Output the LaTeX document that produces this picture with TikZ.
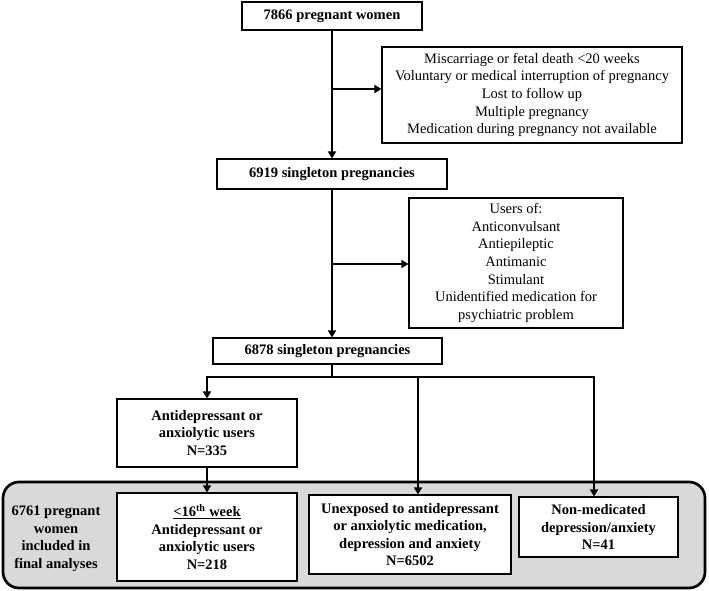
\documentclass[tikz,border=0pt]{standalone}
\usepackage{fontspec}
\setmainfont{Liberation Serif}
\usetikzlibrary{arrows.meta}
\definecolor{panelgrey}{RGB}{217,217,217}
\tikzset{
  boxbase/.style={draw, line width=1.1pt, fill=white, align=center, inner sep=0pt,
    font=\fontsize{14.5}{17.7}\selectfont},
  mainbox/.style={boxbase, font=\fontsize{14.5}{17.5}\selectfont\bfseries},
  exbox/.style={boxbase},
  arr/.style={line width=2.7pt, -{Triangle[length=7pt,width=8pt]}},
  plain/.style={line width=2.7pt},
}
\begin{document}
\begin{tikzpicture}[x=1pt,y=-1pt]
\useasboundingbox (0,0) rectangle (709,591);
% grey panel
\draw[line width=2.7pt, fill=panelgrey, rounded corners=16pt] (3,482) rectangle (705,588);
\node[font=\fontsize{14.5}{17.5}\selectfont\bfseries, align=center] (lab) at (56,539)
  {6761 pregnant\\women\\included in\\final analyses};
% boxes
\node[mainbox, minimum width=180pt, minimum height=28pt] (b1) at (332,16) {7866 pregnant women};
\node[exbox, minimum width=300pt, minimum height=96pt] (b2) at (532,95)
  {Miscarriage or fetal death <20 weeks\\Voluntary or medical interruption of pregnancy\\Lost to follow up\\Multiple pregnancy\\Medication during pregnancy not available};
\node[mainbox, minimum width=230pt, minimum height=30pt] (b3) at (332,174) {6919 singleton pregnancies};
\node[exbox, minimum width=214pt, minimum height=130pt] (b4) at (516,263)
  {Users of:\\Anticonvulsant\\Antiepileptic\\Antimanic\\Stimulant\\Unidentified medication for\\psychiatric problem};
\node[mainbox, minimum width=229pt, minimum height=26pt] (b5) at (327.5,351) {6878 singleton pregnancies};
\node[mainbox, minimum width=180pt, minimum height=68pt] (b6) at (207,433)
  {Antidepressant or\\anxiolytic users\\N=335};
\node[mainbox, minimum width=180pt, minimum height=88pt] (b7) at (207,537)
  {\underline{<16\textsuperscript{th} week}\\Antidepressant or\\anxiolytic users\\N=218};
\node[mainbox, minimum width=202pt, minimum height=79pt] (b8) at (410,534.5)
  {Unexposed to antidepressant\\or anxiolytic medication,\\depression and anxiety\\N=6502};
\node[mainbox, minimum width=159pt, minimum height=60pt] (b9) at (598.5,527)
  {Non-medicated\\depression/anxiety\\N=41};
% connectors
\coordinate (j1) at (332,89);
\coordinate (j2) at (332,264);
\coordinate (s5) at (332,364);
\coordinate (h) at (332,377);
\coordinate (hl) at (207,377);
\coordinate (hm) at (418,377);
\coordinate (hr) at (594,377);
\draw[arr] (b1.south) -- (b3.north);
\draw[arr] (j1) -- (j1 -| b2.west);
\draw[arr] (b3.south) -- (b3.south |- b5.north);
\draw[arr] (j2) -- (j2 -| b4.west);
\draw[plain] (s5) -- (h);
\draw[plain] ([xshift=-1.35pt]hl) -- ([xshift=1.35pt]hr);
\draw[arr] (hl) -- (b6.north);
\draw[arr] (hm) -- (hm |- b8.north);
\draw[arr] (hr) -- (hr |- b9.north);
\draw[arr] (b6.south) -- (b7.north);
\end{tikzpicture}
\end{document}
